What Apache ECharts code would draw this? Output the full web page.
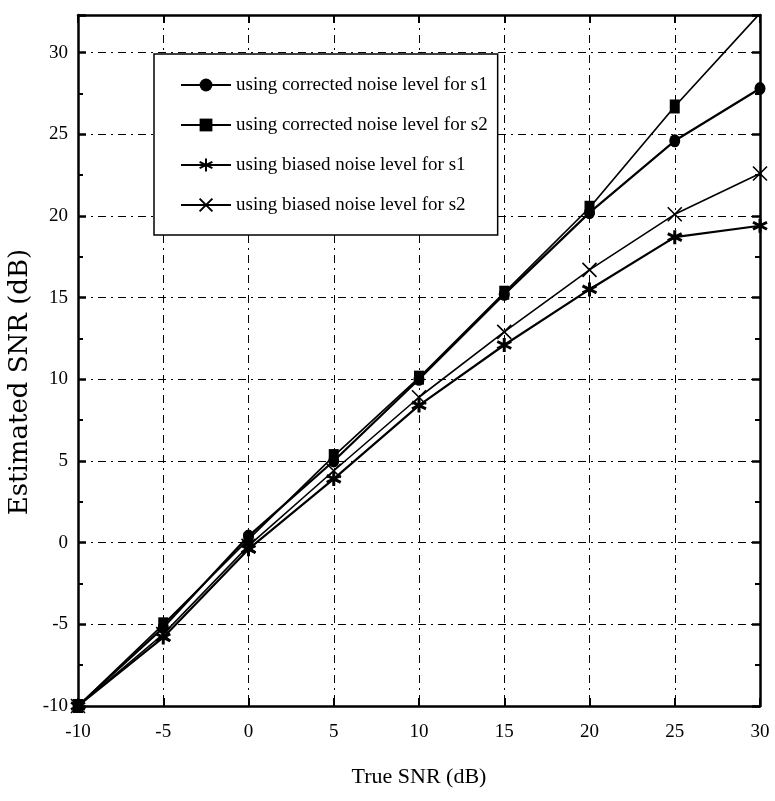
<!DOCTYPE html>
<html>
<head>
<meta charset="utf-8">
<script src="https://cdn.jsdelivr.net/npm/echarts@6/dist/echarts.min.js"></script>
<style>
  html, body { margin: 0; padding: 0; background: #fff; }
  #chart { width: 775px; height: 801px; }
</style>
</head>
<body>
<div id="chart"></div>
<script>
// values
const trueSnr = [-10, -5, 0, 5, 10, 15, 20, 25, 30];
const correctedS1 = [-10, -5.2, 0.4, 5.0, 10.0, 15.2, 20.2, 24.6, 27.8];
const correctedS2 = [-10, -5.0, 0.2, 5.3, 10.1, 15.3, 20.5, 26.7, 32.4];
const biasedS1 = [-10, -5.8, -0.4, 3.9, 8.4, 12.1, 15.5, 18.7, 19.4];
const biasedS2 = [-10, -5.6, -0.2, 4.4, 8.9, 12.9, 16.7, 20.1, 22.6];
const seriesNames = [
  'using corrected noise level for s1',
  'using corrected noise level for s2',
  'using biased noise level for s1',
  'using biased noise level for s2'
];
const xTicks = { min: -10, max: 30, step: 5 };
const yTicks = { min: -10, max: 32.3, step: 5 };

const FONT = 'Liberation Serif';
const starPath = 'path://M5 0 L5 10 M0.7 2.5 L9.3 7.5 M0.7 7.5 L9.3 2.5';
const crossPath = 'path://M0 0 L10 10 M10 0 L0 10';

const pair = ys => trueSnr.map((x, i) => [x, ys[i]]);

const gridLine = {
  show: true,
  lineStyle: { color: '#000', width: 1, type: [8, 5, 2, 5] }
};

const chart = echarts.init(document.getElementById('chart'));
chart.setOption({
  animation: false,
  backgroundColor: '#fff',
  grid: { left: 78, right: 15, top: 15, bottom: 95 },
  graphic: [
    {
      type: 'text',
      x: 20,
      y: 382,
      rotation: Math.PI / 2,
      style: {
        text: 'Estimated SNR (dB)',
        fontFamily: 'DejaVu Serif',
        fontSize: 26,
        fill: '#000',
        align: 'center',
        verticalAlign: 'middle'
      }
    }
  ],
  legend: {
    orient: 'vertical',
    left: 154,
    top: 54,
    padding: [21, 10, 20, 26],
    itemGap: 20,
    itemWidth: 50,
    itemHeight: 16,
    borderColor: '#000',
    borderWidth: 1.5,
    backgroundColor: '#fff',
    textStyle: { fontFamily: FONT, fontSize: 19, color: '#000', lineHeight: 20 },
    data: seriesNames
  },
  xAxis: [
    {
      type: 'value',
      min: xTicks.min,
      max: xTicks.max,
      interval: xTicks.step,
      name: 'True SNR (dB)',
      nameLocation: 'middle',
      nameGap: 60,
      nameTextStyle: { fontFamily: FONT, fontSize: 22, color: '#000' },
      axisLine: { show: true, onZero: false, lineStyle: { color: '#000', width: 2.5 } },
      axisTick: { inside: true, length: 8, lineStyle: { color: '#000', width: 2 } },
      axisLabel: { fontFamily: FONT, fontSize: 19, color: '#000', margin: 17 },
      splitLine: gridLine
    },
    {
      type: 'value',
      position: 'top',
      min: xTicks.min,
      max: xTicks.max,
      interval: xTicks.step,
      axisLine: { show: true, onZero: false, lineStyle: { color: '#000', width: 2.5 } },
      axisTick: { inside: true, length: 8, lineStyle: { color: '#000', width: 2 } },
      axisLabel: { show: false },
      splitLine: { show: false }
    }
  ],
  yAxis: [
    {
      type: 'value',
      min: yTicks.min,
      max: yTicks.max,
      interval: yTicks.step,
      axisLine: { show: true, onZero: false, lineStyle: { color: '#000', width: 2.5 } },
      axisTick: { inside: true, length: 8, lineStyle: { color: '#000', width: 2.5 } },
      minorTick: { show: true, splitNumber: 2, length: 5, lineStyle: { color: '#000', width: 2 } },
      axisLabel: {
        fontFamily: FONT, fontSize: 19, color: '#000', margin: 10,
        showMaxLabel: false,
        formatter: v => (v % 5 === 0 ? String(v) : '')
      },
      splitLine: gridLine
    },
    {
      type: 'value',
      position: 'right',
      min: yTicks.min,
      max: yTicks.max,
      interval: yTicks.step,
      axisLine: { show: true, onZero: false, lineStyle: { color: '#000', width: 2.5 } },
      axisTick: { inside: true, length: 8, lineStyle: { color: '#000', width: 2.5 } },
      minorTick: { show: true, splitNumber: 2, length: 5, lineStyle: { color: '#000', width: 2 } },
      axisLabel: { show: false },
      splitLine: { show: false }
    }
  ],
  series: [
    {
      name: seriesNames[0],
      type: 'line',
      data: pair(correctedS1),
      symbol: 'circle',
      symbolSize: [11, 13],
      lineStyle: { color: '#000', width: 2.2 },
      itemStyle: { color: '#000' },
      z: 4
    },
    {
      name: seriesNames[1],
      type: 'line',
      data: pair(correctedS2),
      symbol: 'rect',
      symbolSize: [10, 14],
      lineStyle: { color: '#000', width: 1.7 },
      itemStyle: { color: '#000' },
      z: 4
    },
    {
      name: seriesNames[2],
      type: 'line',
      data: pair(biasedS1),
      symbol: starPath,
      symbolSize: 14,
      lineStyle: { color: '#000', width: 2.2 },
      itemStyle: { color: '#000', borderColor: '#000', borderWidth: 3 },
      z: 3
    },
    {
      name: seriesNames[3],
      type: 'line',
      data: pair(biasedS2),
      symbol: crossPath,
      symbolSize: 14,
      lineStyle: { color: '#000', width: 1.6 },
      itemStyle: { color: '#000', borderColor: '#000', borderWidth: 1.6 },
      z: 3
    }
  ]
});
</script>
</body>
</html>
